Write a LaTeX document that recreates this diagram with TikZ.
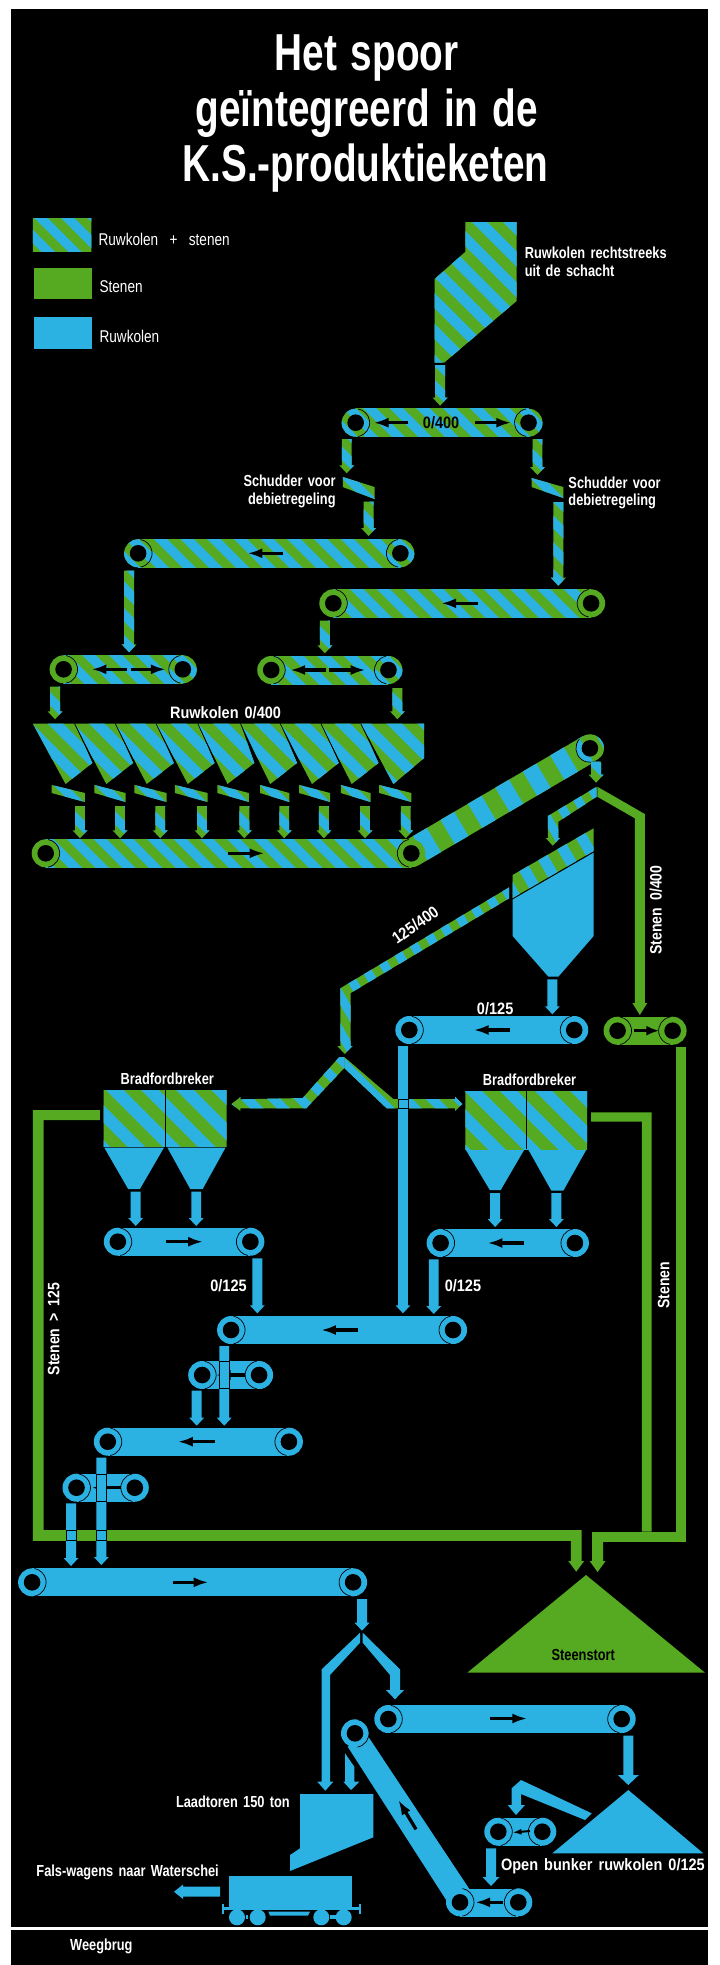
\documentclass[tikz,border=0pt]{standalone}
\usepackage{fontspec}
\setmainfont{Liberation Sans}
\newfontfamily\condfont[FakeStretch=0.8,WordSpace=1.5]{Liberation Sans}
\newfontfamily\numfont[FakeStretch=0.88,WordSpace=1.5]{Liberation Sans}
\newfontfamily\vfont[FakeStretch=0.85,WordSpace=1.8]{Liberation Sans}
\newfontfamily\titlefont[FakeStretch=0.745,WordSpace=1.3]{Liberation Sans}
\usetikzlibrary{arrows.meta}
\definecolor{cblue}{HTML}{2CB1E3}
\definecolor{cgreen}{HTML}{56AA22}
\tikzset{
  lbl/.style={text=white,inner sep=0pt,font=\condfont\bfseries\fontsize{16}{18}\selectfont},
  numlbl/.style={text=white,inner sep=0pt,font=\numfont\bfseries\fontsize{16.5}{18}\selectfont},
  lglabel/.style={text=white,inner sep=0pt,font=\condfont\fontsize{17}{19}\selectfont},
  vlbl/.style={text=white,inner sep=0pt,rotate=90,font=\vfont\bfseries\fontsize{16.5}{18}\selectfont},
  darklbl/.style={text=black,inner sep=0pt,font=\condfont\bfseries\fontsize{16}{18}\selectfont},
  darknum/.style={text=black,inner sep=0pt,font=\numfont\bfseries\fontsize{16.5}{18}\selectfont},
  ttl/.style={text=white,inner sep=0pt,anchor=base,font=\titlefont\bfseries\fontsize{52}{56}\selectfont},
  beltarrow/.style={line width=3.3pt,black,-{Latex[length=15pt,width=10pt]}},
  hair/.style={black,line width=.7pt}
}
% path, cx, cy, R, period, angle
\newcommand\hatch[6]{%
  \begin{scope}
    \pgfmathsetmacro\hCx{#2}\pgfmathsetmacro\hCy{#3}\pgfmathsetmacro\hR{#4}
    \clip #1;
    \fill[cgreen] (\hCx-\hR,\hCy-\hR) rectangle (\hCx+\hR,\hCy+\hR);
    \begin{scope}[shift={(\hCx,\hCy)},rotate=#6]
      \pgfmathtruncatemacro\nk{2*\hR/#5+1}
      \foreach \k in {0,...,\nk}{
        \fill[cblue] ({-\hR+\k*#5},{-\hR*1.5}) rectangle ({-\hR+(\k+.5)*#5},{\hR*1.5});
      }
    \end{scope}
  \end{scope}}
\newcommand\rollerL[3]{%
  \fill[#3] (#1,#2) circle[radius=14pt];
  \fill[black] (#1,#2) circle[radius=8.3pt];
  \draw[hair] ([shift={(#1,#2)}]-80:14pt) arc[start angle=-80,end angle=80,radius=14pt];}
\newcommand\rollerR[3]{%
  \fill[#3] (#1,#2) circle[radius=14pt];
  \fill[black] (#1,#2) circle[radius=8.3pt];
  \draw[hair] ([shift={(#1,#2)}]100:14pt) arc[start angle=100,end angle=260,radius=14pt];}
\newcommand\sfillcgreen[2]{\fill[cgreen] (#1,#2) circle[radius=14pt];}
\newcommand\sfillcblue[2]{\hatch{(#1,#2) circle[radius=14pt]}{#1}{#2}{18}{19}{45}}
\newcommand\sroll[4]{% x y fillname startangle
  \csname sfill#3\endcsname{#1}{#2}%
  \fill[black] (#1,#2) circle[radius=8.3pt];
  \draw[hair] ([shift={(#1,#2)}]#4:14pt) arc[start angle=#4,end angle=#4+160,radius=14pt];}
\newcommand\sbelt[5]{%
  \hatch{(#1,#3-14) rectangle (#2,#3+14)}{(#1+#2)/2}{#3}{(#2-#1)/2+16}{19}{45}%
  \sroll{#1}{#3}{#4}{-80}\sroll{#2}{#3}{#5}{100}}
\newcommand\bbelt[3]{%
  \fill[cblue] (#1,#3-14) rectangle (#2,#3+14);
  \rollerL{#1}{#3}{cblue}\rollerR{#2}{#3}{cblue}}
\newcommand\arrpath[3]{(#1-5,#2) -- (#1+5,#2) -- (#1+5,#3-8) -- (#1+7.5,#3-8) -- (#1,#3) -- (#1-7.5,#3-8) -- (#1-5,#3-8) -- cycle}
\newcommand\barr[3]{\fill[cblue] \arrpath{#1}{#2}{#3};}
\newcommand\bigarr[3]{\fill[cblue] (#1-5,#2) -- (#1+5,#2) -- (#1+5,#3-10) -- (#1+10.5,#3-10) -- (#1,#3) -- (#1-10.5,#3-10) -- (#1-5,#3-10) -- cycle;}
\newcommand\sarr[3]{\hatch{\arrpath{#1}{#2}{#3}}{#1}{(#2+#3)/2}{(#3-#2)/2+8}{19}{45}}
\newcommand\schud[2]{\hatch{(#1,785) -- (#2,793) -- (#2,802) -- (#1,793) -- cycle}{(#1+#2)/2}{793}{24}{19}{45}}
\newcommand\bin[6]{%
  \hatch{(#1,723.5) -- (#2,723.5) -- (#3,#4) -- (#5,#6) -- cycle}{(#1+#2)/2}{752}{50}{22}{45}}
\begin{document}
\begin{tikzpicture}[x=1pt,y=-1pt]
\useasboundingbox (0,0) rectangle (720,1965);
\fill[white] (0,0) rectangle (720,1965);
\fill[black] (11,9) rectangle (708,1965);
\fill[white] (11,1927) rectangle (708,1929.6);
\begin{scope}[x=.9935pt]

% title
\node[ttl] (t1) at (369,70) {Het spoor};
\node[ttl] (t2) at (369,126) {geïntegreerd in de};
\node[ttl] (t3) at (368,181) {K.S.-produktieketen};

% legend
\hatch{(33,218) rectangle (92,251)}{62.5}{234.5}{46}{19}{45}
\fill[cgreen] (34,268) rectangle (93,299);
\fill[cblue] (34,317) rectangle (93,349);
\node[lglabel,anchor=west] (l1) at (99,239) {Ruwkolen\ \ +\ \ stenen};
\node[lglabel,anchor=west] (l2) at (100,287) {Stenen};
\node[lglabel,anchor=west] (l3) at (100,336) {Ruwkolen};

% source hopper
\hatch{(468.5,222) -- (520,222) -- (520,301) -- (447,362.7) -- (437.5,362.7) -- (437.5,279) -- (468.5,251.7) -- cycle}{479}{292}{85}{22}{45}
\node[lbl,anchor=west] (src1) at (528,252.7) {Ruwkolen rechtstreeks};
\node[lbl,anchor=west] (src2) at (528,271) {uit de schacht};
\sarr{443}{365}{405.7}

% belt A
\sbelt{358}{532}{422.7}{cblue}{cblue}
\draw[beltarrow] (411,422.7) -- (376,422.7);
\draw[beltarrow] (478,422.7) -- (514.6,422.7);
\node[darknum] (a0) at (444,423) {0/400};
\sarr{349}{439}{473.3}
\sarr{541}{439}{475}
\hatch{(345,477) -- (377,487) -- (377,499) -- (345,487) -- cycle}{361}{488}{24}{19}{45}
\hatch{(535,478) -- (567,487) -- (567,498) -- (535,487) -- cycle}{551}{488}{24}{19}{45}
\node[lbl,anchor=east] (sl1) at (338,480.7) {Schudder voor};
\node[lbl,anchor=east] (sl2) at (338,500.7) {debietregeling};
\node[lbl,anchor=west] (sr1) at (572,483) {Schudder voor};
\node[lbl,anchor=west] (sr2) at (572,501) {debietregeling};
\sarr{371}{501.7}{536}
\sarr{562}{502}{585.7}

% belts B C
\sbelt{139}{403}{553.3}{cblue}{cblue}
\draw[beltarrow] (285,553.3) -- (249,553.3);
\sbelt{335.5}{595}{603.3}{cgreen}{cgreen}
\draw[beltarrow] (481,603.3) -- (444,603.3);
\sarr{130}{570.7}{652.3}
\sarr{327}{620.7}{653.3}

% belts D E
\sbelt{64}{184}{669.3}{cgreen}{cblue}
\draw[beltarrow] (128,669.3) -- (92,669.3);
\draw[beltarrow] (131.5,669.3) -- (167,669.3);
\sbelt{273}{391}{670}{cgreen}{cblue}
\draw[beltarrow] (328.6,670) -- (292,670);
\draw[beltarrow] (331,670) -- (368,670);
\sarr{55.4}{686.7}{719.3}
\sarr{400}{688}{719.3}
\node[numlbl] (rk) at (227,713) {Ruwkolen 0/400};

% bins
\bin{33}{75}{93}{763}{66}{784}
\bin{75}{116}{134}{763}{107}{784}
\bin{116}{157}{175}{763}{147.7}{784}
\bin{157}{199}{216}{763}{189}{784}
\bin{199}{242}{256}{763}{229}{784}
\bin{242}{282}{299}{763}{272}{784}
\bin{282}{323}{341}{763}{314}{784}
\bin{323}{363}{381}{763}{354}{784}
\bin{363}{427}{427}{758}{396}{784}
\foreach \a/\b in {75/107,116/147.7,157/189,199/229,242/272,282/314,323/354,363/396}{
  \draw[hair] (\a,723.5) -- ({\a+(\b-\a)*.62},763);
}
\schud{52}{85.5}\schud{95}{126.5}\schud{135.2}{167.8}\schud{176.1}{209}\schud{218.7}{250.6}
\schud{261.7}{291.2}\schud{301}{332.3}\schud{343}{373}\schud{381.7}{414}
\foreach \x in {80.5,120.8,161.3,203.3,245.9,286.1,326,367.4,408.4}{\sarr{\x}{806}{838.3}}

% inclined belt G + belt F
\hatch{(406.9,841.2) -- (586.7,736.2) -- (600.9,760.4) -- (421.1,865.4) -- cycle}{503}{801}{125}{32}{30.5}
\hatch{(593.8,748.3) circle[radius=14pt]}{593.8}{748.3}{20}{32}{30.5}
\fill[black] (593.8,748.3) circle[radius=8.3pt];
\draw[hair] ([shift={(593.8,748.3)}]140:14pt) arc[start angle=140,end angle=320,radius=14pt];
\draw[beltarrow] (492,831) -- (523,813);
\sbelt{46}{414}{853.3}{cgreen}{cgreen}
\draw[beltarrow] (229.4,853.3) -- (266.3,853.3);
\sarr{600}{761.7}{782.7}

% splitter
\hatch{(600.6,786.7) -- (600.6,796.7) -- (562,821.7) -- (562,838) -- (563.8,838) -- (556.3,845.7) -- (549.3,838) -- (551.4,838) -- (551.4,816) -- cycle}{575}{815}{45}{18}{30}
\fill[cgreen] (601.2,786.7) -- (649,814) -- (649,1003) -- (651.5,1003) -- (644,1015) -- (636.5,1003) -- (639,1003) -- (639,818.3) -- (601.2,796.7) -- cycle;
\node[vlbl] (st400) at (660,910) {Stenen 0/400};

% screen + bin
\hatch{(597.5,828.3) -- (597.5,851) -- (516,898) -- (516,875) -- cycle}{556}{863}{55}{22}{30}
\fill[cblue] (597.5,852.7) -- (597.5,936) -- (562,976.7) -- (552,976.7) -- (516,936) -- (516,899.5) -- cycle;
\hatch{(512.5,887.3) -- (512.5,898.3) -- (353,993) -- (353,1046) -- (355,1046) -- (347,1054) -- (339.5,1046) -- (342.5,1046) -- (342.5,988.3) -- cycle}{425}{970}{125}{18}{30}
\node[numlbl,rotate=35] (s125) at (418,925) {125/400};

% split after 125/400
\hatch{(346.5,1057) -- (341.5,1057) -- (304.6,1098) -- (242,1099.3) -- (242,1097) -- (233,1104) -- (242,1111) -- (242,1108.3) -- (308.3,1108.3) -- (346.5,1068) -- cycle}{289}{1085}{62}{19}{45}
\hatch{(346.5,1057) -- (395.9,1099) -- (458,1099) -- (458,1096.7) -- (465.3,1104) -- (458,1111) -- (458,1108.3) -- (389.2,1108.3) -- (346.5,1068) -- cycle}{403}{1085}{68}{19}{45}

% belt H
\barr{556}{979.3}{1014.3}
\bbelt{412}{578}{1030}
\draw[beltarrow] (513.7,1030) -- (476.7,1030);
\node[numlbl] (h125) at (498.4,1008.3) {0/125};
\fill[cgreen] (621,1016.7) rectangle (677,1044.7);
\rollerL{621.6}{1030.7}{cgreen}\rollerR{677}{1030.7}{cgreen}
\draw[line width=3pt,black,-{Latex[length=13pt,width=10pt]}] (638,1030.7) -- (663.6,1030.7);
\barr{405.6}{1046}{1313.3}
\draw[hair,fill=cblue] (400.6,1099) rectangle (410.6,1108.3);

% bradford left
\hatch{(104.3,1090) rectangle (228,1146.7)}{166}{1118}{72}{25}{45}
\draw[black,line width=1pt] (167,1090) -- (167,1146.7);
\fill[cblue] (105,1147.7) -- (165,1147.7) -- (140.8,1189) -- (129,1189) -- cycle;
\fill[cblue] (168.5,1147.7) -- (227,1147.7) -- (204,1189) -- (191.5,1189) -- cycle;
\node[lbl] (bl) at (168.4,1078.3) {Bradfordbreker};
% bradford right
\hatch{(468.4,1091) rectangle (591,1149)}{528}{1120}{72}{25}{45}
\draw[black,line width=1pt] (530,1091) -- (530,1149);
\fill[cblue] (469,1150) -- (527.5,1150) -- (504,1190) -- (493,1190) -- cycle;
\fill[cblue] (532,1150) -- (590,1150) -- (567,1190.7) -- (555,1190.7) -- cycle;
\node[lbl] (br) at (533,1079.3) {Bradfordbreker};

% green bands
\fill[cgreen] (100.6,1110) -- (33,1110) -- (33,1540.8) -- (574.5,1540.8) -- (574.5,1561) -- (572,1561) -- (580,1571.7) -- (588,1561) -- (585.5,1561) -- (585.5,1530) -- (44,1530) -- (44,1120) -- (100.6,1120) -- cycle;
\fill[cgreen] (596,1531.7) rectangle (690,1541.5);
\fill[cgreen] (680,1046.7) rectangle (690,1541.5);
\fill[cgreen] (595,1112.3) -- (656,1112.3) -- (656,1531.7) -- (646,1531.7) -- (646,1121.7) -- (595,1121.7) -- cycle;
\fill[cgreen] (596,1541) -- (607,1541) -- (607,1561) -- (609.5,1561) -- (601.5,1572) -- (593.5,1561) -- (596,1561) -- cycle;
\node[vlbl] (st125) at (54,1329) {Stenen > 125};
\node[vlbl] (sten) at (668,1285) {Stenen};

% lower blue chain
\barr{136.6}{1191.7}{1226}\barr{197.5}{1191.7}{1226}
\barr{498.4}{1193}{1227}\barr{560}{1193}{1227}
\bbelt{118.6}{252}{1241.7}
\draw[beltarrow] (167.5,1241.7) -- (204.5,1241.7);
\bbelt{443.5}{578.7}{1243}
\draw[beltarrow] (527.5,1243) -- (490.6,1243);
\barr{259}{1258.3}{1313.3}\barr{436.6}{1259.3}{1314}
\node[numlbl] (j125) at (230,1286) {0/125};
\node[numlbl] (k125) at (466,1286) {0/125};
\bbelt{232.6}{456}{1330}
\draw[beltarrow] (360,1330) -- (323,1330);
\bbelt{203.5}{260.8}{1375}
\draw[beltarrow] (247,1375) -- (217,1375);
\barr{225.7}{1346}{1425.7}
\draw[hair] (220.7,1361) rectangle (230.7,1388.7);
\barr{198}{1390.7}{1425.7}
\bbelt{108.5}{290.8}{1441.7}
\draw[beltarrow] (216,1441.7) -- (179,1441.7);
\bbelt{77}{135.7}{1487.7}
\draw[beltarrow] (122,1487.7) -- (92,1487.7);
\barr{102}{1457.7}{1565}
\draw[hair] (97,1474) rectangle (107,1501.7);
\barr{71.5}{1503.3}{1566}
\draw[hair] (66.5,1530) rectangle (76.5,1540.8);
\draw[hair] (97,1530) rectangle (107,1540.8);
\bbelt{32.3}{355.4}{1582.3}
\draw[beltarrow] (174,1582.3) -- (210,1582.3);
\end{scope}

% from here on: coordinates taken directly in picture pixels
\barr{362}{1599}{1630.7}

% split to tower and belt Q
\fill[cblue] (360,1632.7) -- (321.7,1669.3) -- (321.7,1781.7) -- (317.3,1781.7) -- (325.3,1790.7) -- (333.3,1781.7) -- (330,1781.7) -- (330,1675) -- (360,1642.7) -- cycle;
\fill[cblue] (362.7,1632.7) -- (400,1669.3) -- (400,1690) -- (404,1690) -- (395,1699.3) -- (386,1690) -- (390,1690) -- (390,1675) -- (362.7,1642.7) -- cycle;
\bbelt{388.3}{621.7}{1719}
\draw[beltarrow] (490,1718.5) -- (527.3,1718.5);
\bigarr{628.3}{1735.7}{1785}

% steenstort
\fill[cgreen] (586,1575) -- (705,1672.7) -- (467.3,1672.7) -- cycle;
\node[darklbl] (stt) at (583.3,1655) {Steenstort};

% bunker
\fill[cblue] (628.3,1790) -- (703.3,1853.3) -- (552.3,1853.3) -- cycle;
\node[numlbl,anchor=east] (ob) at (705,1866) {Open bunker ruwkolen 0/125};
\fill[cblue] (591.7,1813.3) -- (521,1780) -- (511.7,1788.3) -- (511.7,1805) -- (507.7,1805) -- (516,1815) -- (525,1805) -- (521,1805) -- (521,1794) -- (585,1820) -- cycle;
\bbelt{498.3}{542.3}{1831.7}
\draw[line width=2pt,black,-{Latex[length=9pt,width=6pt]}] (530,1831) -- (512.5,1832.5);
\fill[cblue] (486,1848.3) -- (496,1848.3) -- (496,1877) -- (499.5,1877) -- (491,1886) -- (482.5,1877) -- (486,1877) -- cycle;

% inclined T
\fill[cblue] (347.7,1746.7) -- (368.3,1736.7) -- (470,1890) -- (448.3,1903.3) -- cycle;
\rollerL{355}{1733.3}{cblue}
\fill[cblue] (460,1889.3) rectangle (518.3,1916.7);
\rollerL{460}{1902.3}{cblue}\rollerR{518.3}{1902.3}{cblue}
\draw[beltarrow] (503.3,1902.3) -- (475,1902.3);
\draw[beltarrow] (416,1829.3) -- (398.3,1800);
\fill[cblue] (345,1753.3) -- (354.3,1766.7) -- (354.3,1781.7) -- (359.3,1781.7) -- (351,1790) -- (343.3,1781.7) -- (345,1781.7) -- cycle;

% tower and wagon
\fill[cblue] (300,1794) -- (373.3,1794) -- (373.3,1837.3) -- (290,1871) -- (290,1855) -- (300,1848.3) -- cycle;
\node[lbl,anchor=east] (lt) at (290,1801.7) {Laadtoren 150 ton};
\node[lbl,anchor=east] (fw) at (219,1872.3) {Fals-wagens naar Waterschei};
\fill[cblue] (220,1886.7) -- (220,1896.7) -- (183,1896.7) -- (183,1899) -- (174,1891.7) -- (183,1884.5) -- (183,1886.7) -- cycle;
\fill[cblue] (229.3,1876) rectangle (352.3,1906.7);
\fill[cblue] (222.5,1907) rectangle (360.3,1910);
\fill[cblue] (222.3,1904) rectangle (223.8,1914);
\fill[cblue] (359.2,1904) rectangle (360.7,1914);
\foreach \x in {237,257.7,321.3,343.7}{\fill[cblue] (\x,1917.3) circle[radius=8pt];}
\fill[cblue] (268.3,1911.5) -- (310,1911.5) -- (308,1915.7) -- (270,1915.7) -- cycle;
\fill[cblue] (330,1915) rectangle (336,1919);
\fill[cblue] (246,1915) rectangle (248,1919);

\node[lbl,anchor=west] (wb) at (70,1946) {Weegbrug};
\end{tikzpicture}
\end{document}
